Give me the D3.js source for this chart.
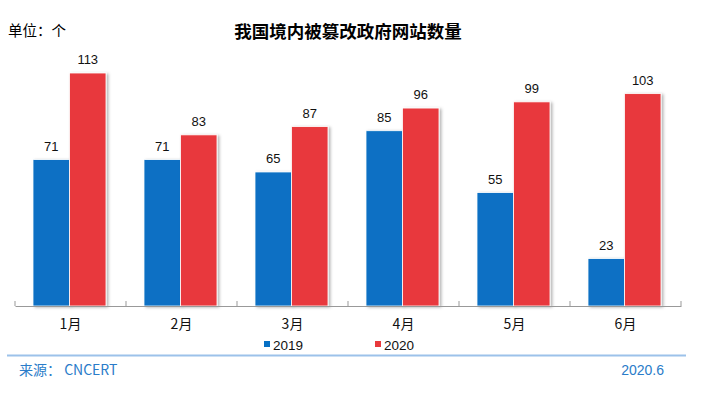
<!DOCTYPE html>
<html>
<head>
<meta charset="utf-8">
<script src="https://cdn.jsdelivr.net/npm/d3@7/dist/d3.min.js"></script>
<style>
body { margin: 0; background: #fff; }
svg text { font-family: "Liberation Sans", Arial, "Noto Sans CJK SC", sans-serif; }
</style>
</head>
<body>
<div id="chart"></div>
<script>
var months = ["1月", "2月", "3月", "4月", "5月", "6月"];
var years = ["2019", "2020"];
var v2019 = [71, 71, 65, 85, 55, 23];
var v2020 = [113, 83, 87, 96, 99, 103];
var colors = ["#0770c4", "#e8393c"];

var W = 723, H = 395;
var svg = d3.select("#chart").append("svg")
  .attr("width", W).attr("height", H);

var defs = svg.append("defs");
var f = defs.append("filter").attr("id", "shadow")
  .attr("x", "-20%").attr("y", "-5%").attr("width", "150%").attr("height", "115%");
f.append("feDropShadow").attr("dx", 2).attr("dy", 1).attr("stdDeviation", 1.5)
  .attr("flood-color", "#000").attr("flood-opacity", 0.3);

var left = 15, right = 681, base = 306;

var x = d3.scaleBand().domain(months).range([left, right]);
var x1 = d3.scaleBand().domain(years).range([18, 91]);
var y = d3.scaleLinear().domain([0, 113]).range([base, 73]);

var data = months.map(function(m, i) {
  return {month: m, vals: [v2019[i], v2020[i]]};
});

// title
svg.append("text").attr("x", 348).attr("y", 38)
  .attr("text-anchor", "middle").attr("font-size", 17.5).attr("font-weight", "bold")
  .style("font-family", "'Noto Sans CJK SC', sans-serif")
  .text("我国境内被篡改政府网站数量");
svg.append("text").attr("x", 8).attr("y", 36)
  .attr("font-size", 14.5)
  .style("font-family", "'Noto Sans CJK SC', sans-serif")
  .text("单位：个");

var g = svg.selectAll("g.grp").data(data).enter().append("g")
  .attr("class", "grp")
  .attr("transform", function(d) { return "translate(" + x(d.month) + ",0)"; });

g.selectAll("rect").data(function(d) { return d.vals; }).enter().append("rect")
  .attr("x", function(d, i) { return x1(years[i]); })
  .attr("y", function(d) { return y(d); })
  .attr("width", x1.bandwidth())
  .attr("height", function(d) { return base - y(d); })
  .attr("fill", function(d, i) { return colors[i]; })
  .attr("stroke", "#fff").attr("stroke-width", 0.8)
  .attr("filter", "url(#shadow)");

g.selectAll("text.val").data(function(d) { return d.vals; }).enter().append("text")
  .attr("class", "val")
  .attr("x", function(d, i) { return x1(years[i]) + x1.bandwidth() / 2; })
  .attr("y", function(d) { return y(d) - 9; })
  .attr("text-anchor", "middle").attr("font-size", 13).attr("fill", "#111")
  .text(function(d) { return d; });

// axis
var ax = svg.append("g").attr("transform", "translate(0," + base + ")")
  .call(d3.axisBottom(x).tickSize(0).tickPadding(13));
ax.select(".domain").attr("stroke", "#999");
ax.selectAll("text").attr("font-size", 14).attr("fill", "#111")
  .style("font-family", "'Noto Sans CJK SC', sans-serif");
var tickPos = months.map(function(m) { return x(m); }).concat([right]);
ax.selectAll("line.sep").data(tickPos).enter().append("line")
  .attr("class", "sep")
  .attr("x1", function(d) { return d; }).attr("x2", function(d) { return d; })
  .attr("y1", 0).attr("y2", -5).attr("stroke", "#999");

// legend
var leg = svg.selectAll("g.leg").data(years).enter().append("g")
  .attr("class", "leg")
  .attr("transform", function(d, i) { return "translate(" + (264 + i * 111) + ",345)"; });
leg.append("rect").attr("x", 0).attr("y", -4).attr("width", 6).attr("height", 6)
  .attr("fill", function(d, i) { return colors[i]; });
leg.append("text").attr("x", 9).attr("y", 5).attr("font-size", 13.5).attr("fill", "#111")
  .text(function(d) { return d; });

// footer
svg.append("line").attr("x1", 7).attr("x2", 686).attr("y1", 355.5).attr("y2", 355.5)
  .attr("stroke", "#9cc2ea").attr("stroke-width", 2);
svg.append("text").attr("x", 19).attr("y", 375).attr("font-size", 14).attr("fill", "#2a7cc9")
  .style("font-family", "'Noto Sans CJK SC', sans-serif")
  .text("来源： CNCERT");
svg.append("text").attr("x", 664).attr("y", 375).attr("font-size", 14).attr("fill", "#2a7cc9")
  .attr("text-anchor", "end")
  .text("2020.6");
</script>
</body>
</html>
